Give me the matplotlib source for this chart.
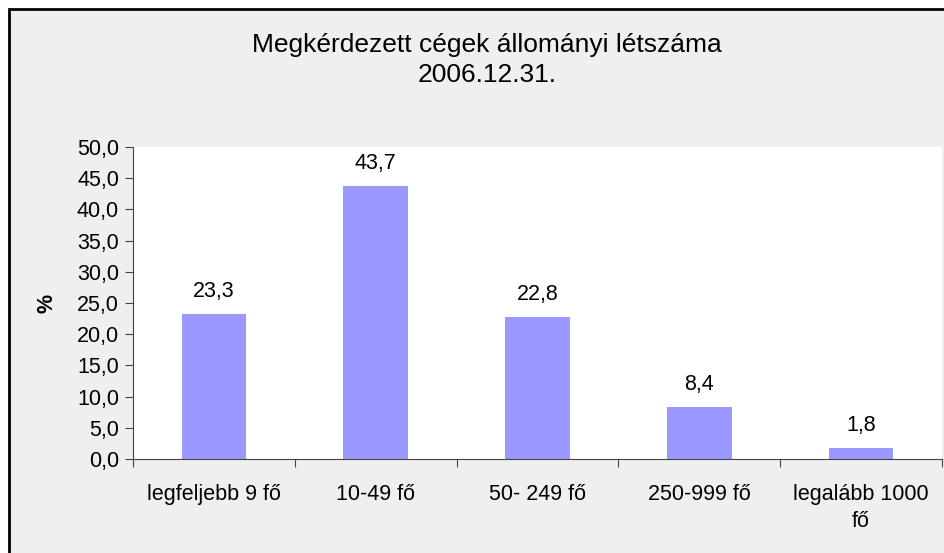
import matplotlib.pyplot as plt
import numpy as np
from matplotlib.patches import Rectangle

categories = ['legfeljebb 9 fő', '10-49 fő', '50- 249 fő', '250-999 fő', 'legalább 1000\nfő']
values = [23.3, 43.7, 22.8, 8.4, 1.8]
yticks = [0, 5, 10, 15, 20, 25, 30, 35, 40, 45, 50]

plt.rcParams['font.family'] = ['Liberation Sans', 'DejaVu Sans']
fs = 15.5

fig = plt.figure(figsize=(9.44, 5.53), dpi=100)
fig.patch.set_facecolor('white')
# chart area with border (cut off at right/bottom like the reference)
fig.patches.append(Rectangle((9 / 944, -0.1), 1.2, 1 - 9 / 553 + 0.1,
                             transform=fig.transFigure, facecolor='#efefef',
                             edgecolor='black', linewidth=2, zorder=-5))

ax = fig.add_axes([133 / 944, 1 - 459 / 553, 809 / 944, 312 / 553])
ax.set_facecolor('white')

x = np.arange(len(categories))
ax.bar(x, values, width=0.4, color='#9999ff', zorder=2)
for xi, v in zip(x, values):
    ax.text(xi, v + 3.6, f'{v:.1f}'.replace('.', ','), ha='center', va='center', fontsize=fs)

ax.set_xlim(-0.5, len(categories) - 0.5)
ax.set_ylim(0, 50)
ax.set_yticks(yticks)
ax.set_yticklabels([f'{t:.1f}'.replace('.', ',') for t in yticks], fontsize=fs)
ax.set_xticks(np.arange(len(categories) + 1) - 0.5)
ax.set_xticklabels([])
ax.set_xticks(x, minor=True)
ax.set_xticklabels(categories, minor=True, fontsize=fs, linespacing=1.35)
ax.tick_params(axis='x', which='minor', length=0, pad=18)
ax.tick_params(axis='x', which='major', length=6, color='#444444')
ax.tick_params(axis='y', length=6, color='#444444', pad=4)

for s in ['top', 'right']:
    ax.spines[s].set_visible(False)
for s in ['left', 'bottom']:
    ax.spines[s].set_color('#444444')

ax.set_ylabel('%', fontsize=fs, fontweight='bold', labelpad=14)

fig.text(487 / 944, 1 - 45 / 553, 'Megkérdezett cégek állományi létszáma', ha='center', va='center', fontsize=19)
fig.text(487 / 944, 1 - 75 / 553, '2006.12.31.', ha='center', va='center', fontsize=19)

fig.savefig('out.png', dpi=100, facecolor=fig.get_facecolor())
